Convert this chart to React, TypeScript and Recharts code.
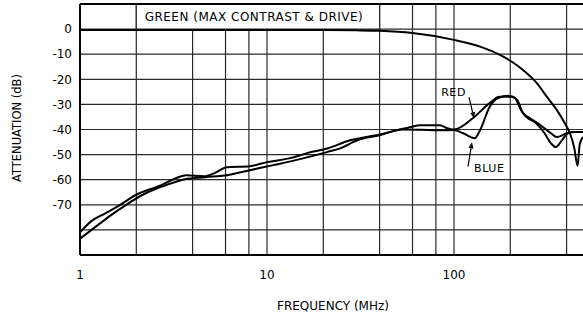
// App.tsx
import React from 'react';
import {
  LineChart,
  Line,
  XAxis,
  YAxis,
  CartesianGrid,
  ReferenceArea,
  ReferenceLine,
} from 'recharts';

// frequency in MHz, attenuation in dB
const greenFreq = [1, 5, 10, 20, 30, 40, 60, 100, 138, 176, 204, 234, 278, 314, 355, 392, 417, 440, 458, 470, 490];
const greenDb = [-0.4, -0.4, -0.4, -0.4, -0.5, -0.7, -1.6, -4.3, -7, -10.3, -13, -16.3, -21.6, -27, -32.3, -37.6, -41.5, -47.5, -54.5, -46, -43];

const redFreq = [1, 1.15, 1.36, 1.6, 2.0, 2.7, 3.3, 3.7, 4.6, 5.2, 6.1, 8.1, 10, 13.3, 16.4, 21, 27.8, 40, 58, 66, 84, 92, 100, 126, 155, 175, 204, 218, 234, 255, 290, 330, 355, 400, 440, 500];
const redDb = [-81, -76.5, -73.5, -70.5, -66, -62.3, -59.2, -58.2, -58.6, -57.5, -55, -54.6, -53, -51.4, -49.4, -47.6, -44.3, -42, -39.1, -38.3, -38.3, -39.5, -40, -35.5, -29.5, -27, -27, -28.3, -33.5, -35.5, -38.3, -41.5, -43, -41.5, -41, -41];

const blueFreq = [1, 1.2, 1.41, 1.74, 2.23, 2.85, 3.64, 4.66, 6.1, 8.1, 10.8, 15, 20.9, 24.6, 30.4, 40, 53, 66, 84, 100, 112, 129, 138, 155, 172, 195, 212, 228, 244, 275, 305, 330, 350, 380, 405, 433, 500];
const blueDb = [-83.5, -79, -75, -70.3, -65.5, -62.3, -59.8, -59, -58.2, -56.2, -54.2, -51.8, -49, -47.5, -44.3, -42.3, -40, -40.1, -40.3, -40.2, -41.5, -43.5, -40.2, -31, -27.5, -26.6, -27.5, -32.2, -35, -37.5, -41.5, -45.5, -47, -44, -41.5, -41, -41];

const xTicks = [1, 2, 4, 6, 8, 10, 20, 40, 60, 80, 100, 200, 400, 600, 800, 1000];
const xLabels = [1, 10, 100];
const yTicks = [-90, -80, -70, -60, -50, -40, -30, -20, -10, 0, 10];

const toRows = (f: number[], v: number[]) => f.map((x, i) => ({ f: x, db: v[i] }));
const greenData = toRows(greenFreq, greenDb);
const redData = toRows(redFreq, redDb);
const blueData = toRows(blueFreq, blueDb);

const FONT = '"DejaVu Sans", sans-serif';
const GRID = '#2a2a2a';

// arrow with a caption, drawn between the two segment ends (tail -> tip)
const makeArrow = (text: string, side: 'left' | 'right') => (props: any) => {
  const { x1, y1, x2, y2 } = props;
  const ang = Math.atan2(y2 - y1, x2 - x1);
  const L = 6;
  const W = 2.5;
  const bx = x2 - L * Math.cos(ang);
  const by = y2 - L * Math.sin(ang);
  const p1 = `${bx + W * Math.sin(ang)},${by - W * Math.cos(ang)}`;
  const p2 = `${bx - W * Math.sin(ang)},${by + W * Math.cos(ang)}`;
  return (
    <g>
      <line x1={x1} y1={y1} x2={bx} y2={by} stroke="#000" strokeWidth={1.2} />
      <polygon points={`${x2},${y2} ${p1} ${p2}`} fill="#000" />
      <text
        x={side === 'left' ? x1 - 3 : x1 + 6}
        y={side === 'left' ? y1 - 1 : y1 + 6}
        textAnchor={side === 'left' ? 'end' : 'start'}
        fontFamily={FONT}
        fontSize={11}
        letterSpacing={0.6}
        fill="#000"
      >
        {text}
      </text>
    </g>
  );
};

export default function App() {
  return (
    <div style={{ position: 'absolute', left: 0, top: 0, width: 583, height: 318, overflow: 'hidden', background: '#fff' }}>
      <LineChart width={650} height={318} margin={{ top: 4, right: 9, bottom: 0, left: 0 }}>
        <CartesianGrid stroke={GRID} strokeWidth={1.2} />
        <XAxis
          dataKey="f"
          type="number"
          scale="log"
          domain={[1, 1000]}
          allowDataOverflow
          ticks={xTicks}
          interval={0}
          tickLine={false}
          tickMargin={9}
          height={63}
          axisLine={{ stroke: '#000', strokeWidth: 2 }}
          tick={{ fill: '#000', fontFamily: FONT, fontSize: 12 }}
          tickFormatter={(v: number) => (xLabels.includes(v) ? String(v) : '')}
          label={{
            content: () => (
              <text x={333} y={310} textAnchor="middle" fontFamily={FONT} fontSize={12} fill="#000">
                FREQUENCY (MHz)
              </text>
            ),
          }}
        />
        <YAxis
          type="number"
          domain={[-90, 10]}
          ticks={yTicks}
          interval={0}
          width={80}
          tickLine={false}
          axisLine={{ stroke: '#000', strokeWidth: 2 }}
          tick={{ fill: '#000', fontFamily: FONT, fontSize: 12 }}
          tickFormatter={(v: number) => (v <= 0 && v >= -70 ? String(v) : '')}
          label={{
            content: () => (
              <text
                x={21}
                y={128}
                transform="rotate(-90 21 128)"
                textAnchor="middle"
                fontFamily={FONT}
                fontSize={11.5}
                fill="#000"
              >
                ATTENUATION (dB)
              </text>
            ),
          }}
        />
        <ReferenceLine y={10} stroke="#000" strokeWidth={2} />
        <ReferenceArea
          x1={2}
          x2={40}
          y1={0}
          y2={10}
          fill="#fff"
          fillOpacity={1}
          stroke={GRID}
          strokeWidth={1.2}
          label={{ value: 'GREEN (MAX CONTRAST & DRIVE)', position: 'center', dx: -4, fill: '#000', fontFamily: FONT, fontSize: 12, letterSpacing: 0.5 }}
        />
        <Line data={greenData} dataKey="db" type="monotone" stroke="#000" strokeWidth={2} dot={false} isAnimationActive={false} />
        <Line data={redData} dataKey="db" type="monotone" stroke="#000" strokeWidth={2} dot={false} isAnimationActive={false} />
        <Line data={blueData} dataKey="db" type="monotone" stroke="#000" strokeWidth={2} dot={false} isAnimationActive={false} />
        <ReferenceLine
          segment={[{ x: 120.3, y: -27.1 }, { x: 127.9, y: -35.5 }]}
          shape={makeArrow('RED', 'left')}
        />
        <ReferenceLine
          segment={[{ x: 118.8, y: -54.7 }, { x: 124.8, y: -45.1 }]}
          shape={makeArrow('BLUE', 'right')}
        />
      </LineChart>
    </div>
  );
}
